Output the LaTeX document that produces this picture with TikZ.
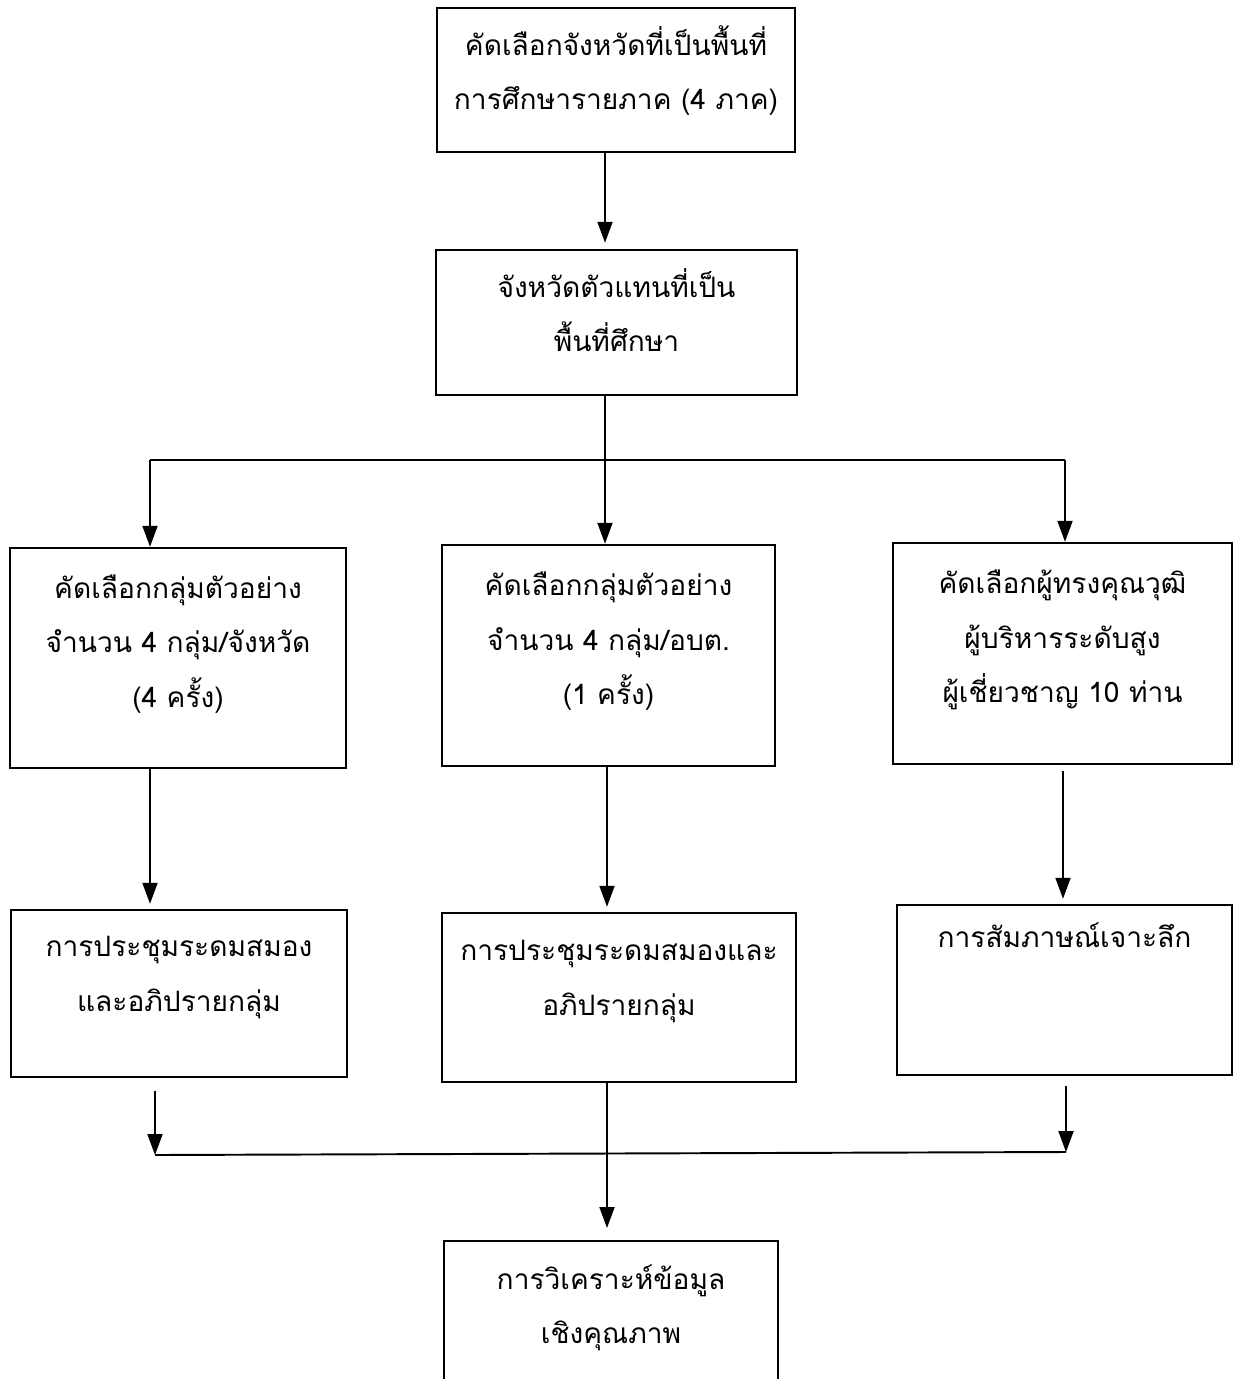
\documentclass[tikz,border=0pt]{standalone}
\usepackage{fontspec}
\newfontfamily\thaifont[Script=Thai]{Loma}
\usepackage{tikz}
\usetikzlibrary{arrows.meta}
\tikzstyle{box}=[draw=black, line width=1.4pt, align=center, inner sep=0pt,
                    font=\thaifont\fontsize{16}{31}\selectfont]
\tikzstyle{flow}=[draw=black, line width=1.1pt]
\tikzstyle{arr}=[flow, -{Triangle[length=4.2mm,width=3mm]}]

\begin{document}
\begin{tikzpicture}[x=0.2mm,y=-0.2mm]
      \useasboundingbox (0,0) rectangle (1238,1379);

      \node[box, minimum width=71.6mm, minimum height=28.8mm] (sel) at (616,80)
            {คัดเลือกจังหวัดที่เป็นพื้นที่\\การศึกษารายภาค (4 ภาค)\\[-6mm]};
      \node[box, minimum width=72.2mm, minimum height=29mm] (prov) at (616.5,322.5)
            {จังหวัดตัวแทนที่เป็น\\พื้นที่ศึกษา\\[-6mm]};

      \node[box, minimum width=67.2mm, minimum height=44mm] (grpA) at (178,658)
            {คัดเลือกกลุ่มตัวอย่าง\\จำนวน 4 กลุ่ม/จังหวัด\\(4 ครั้ง)\\[-4mm]};
      \node[box, minimum width=66.6mm, minimum height=44.2mm] (grpB) at (608.5,655.5)
            {คัดเลือกกลุ่มตัวอย่าง\\จำนวน 4 กลุ่ม/อบต.\\(1 ครั้ง)\\[-4mm]};
      \node[box, minimum width=67.8mm, minimum height=44.2mm] (expt) at (1062.5,653.5)
            {คัดเลือกผู้ทรงคุณวุฒิ\\ผู้บริหารระดับสูง\\ผู้เชี่ยวชาญ 10 ท่าน\\[-4mm]};

      \node[box, minimum width=67.2mm, minimum height=33.4mm] (brainA) at (179,993.5)
            {การประชุมระดมสมอง\\และอภิปรายกลุ่ม\\[-3mm]};
      \node[box, minimum width=70.8mm, minimum height=33.8mm] (brainB) at (619,997.5)
            {การประชุมระดมสมองและ\\อภิปรายกลุ่ม\\[-3mm]};
      \node[box, minimum width=67mm, minimum height=34mm] (intv) at (1064.5,990)
            {การสัมภาษณ์เจาะลึก\\ \\ };

      % runs off the bottom edge
      \node[box, anchor=north, minimum width=66.8mm, minimum height=32mm] (anal) at (611,1240)
            {การวิเคราะห์ข้อมูล\\เชิงคุณภาพ\\[-4mm]};

      \coordinate (spine) at (605,460);
      \coordinate (lsplit) at (150,460);
      \coordinate (rsplit) at (1065,460);
      \coordinate (ljoin) at (155,1155);
      \coordinate (rjoin) at (1066,1152);
      \coordinate (mjoin) at (607,1154);

      \draw[arr] (sel.south -| spine) -- ([yshift=1.2mm]prov.north -| spine);

      \draw[flow] (prov.south -| spine) -- (spine);
      \draw[flow] (lsplit) -- (rsplit);
      \draw[arr] (lsplit) -- (grpA.north -| lsplit);
      \draw[arr] (spine) -- (grpB.north -| spine);
      \draw[arr] (rsplit) -- (expt.north -| rsplit);

      \draw[arr] (grpA.south -| lsplit) -- ([yshift=1mm]brainA.north -| lsplit);
      \draw[arr] (grpB.south -| mjoin) -- ([yshift=1mm]brainB.north -| mjoin);
      \draw[arr] ([yshift=-1.2mm]expt.south -| 1063,0) -- ([yshift=1mm]intv.north -| 1063,0);

      \draw[arr] ([yshift=-2.6mm]brainA.south -| ljoin) -- (ljoin);
      \draw[arr] ([yshift=-2mm]intv.south -| rjoin) -- (rjoin);
      \draw[flow] (ljoin) -- (rjoin);
      \draw[arr] (brainB.south -| mjoin) -- ([yshift=2.4mm]anal.north -| mjoin);
\end{tikzpicture}
\end{document}
